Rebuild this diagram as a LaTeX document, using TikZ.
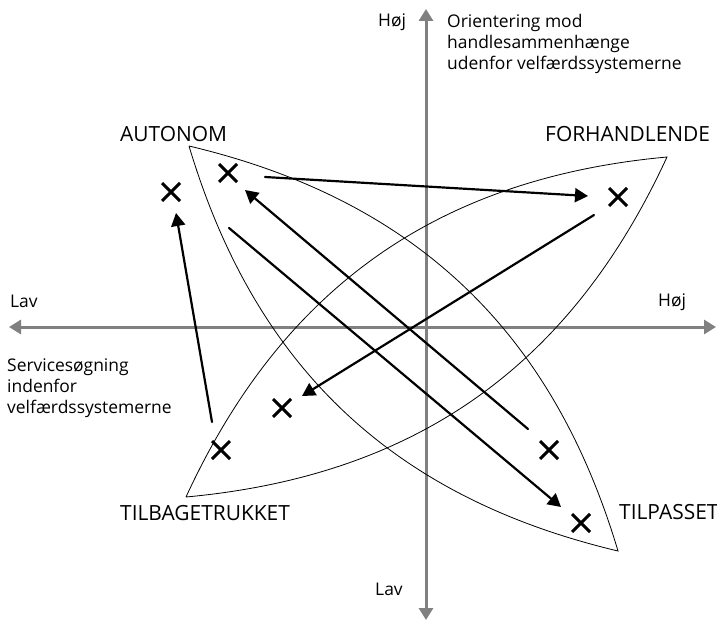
\documentclass[tikz,border=0pt]{standalone}
\usepackage{fontspec}
\setmainfont{Open Sans}
\usepackage{tkz-euclide}
\usetikzlibrary{calc}
\usetikzlibrary{positioning}
\usetikzlibrary{arrows.meta}
\usetikzlibrary{shapes.misc}
\definecolor{axisgray}{rgb}{0.5,0.5,0.5}

\begin{document}
\begin{tikzpicture}[%
  >={Triangle[length=13bp,width=14bp]},
  x=1bp, y=-1bp,
  axis/.style={line width=3bp, axisgray},
  lens/.style={line width=0.8bp},
  move/.style={line width=2.2bp},
  xmark/.style={draw, cross out, line width=3bp, minimum size=15bp, inner sep=0pt},
  small/.style={font=\fontsize{17.5}{21}\selectfont, inner sep=0pt},
  big/.style={font=\fontsize{21}{25}\selectfont, inner sep=0pt},
]
  \useasboundingbox (0,0) rectangle (717,621);

  % axes
  \tkzDefPoint(9,327){w}
  \tkzDefPoint(716,327){e}
  \tkzDefPoint(426,9){n}
  \tkzDefPoint(426,620){s}

  % tips of the two lenses
  \tkzDefPoint(189,146){la}
  \tkzDefPoint(618,551){lb}
  \tkzDefPoint(186,497){lc}
  \tkzDefPoint(667,157){ld}

  % crosses
  \tkzDefPoint(171,192){x1}
  \tkzDefPoint(228,173){x2}
  \tkzDefPoint(618,197){x3}
  \tkzDefPoint(282,408){x4}
  \tkzDefPoint(221,450){x5}
  \tkzDefPoint(549,450){x6}
  \tkzDefPoint(581,523){x7}

  % arrow ends
  \tkzDefPoint(265,177){a1}
  \tkzDefPoint(588,196){b1}
  \tkzDefPoint(594,215){a2}
  \tkzDefPoint(302,396){b2}
  \tkzDefPoint(229,228){a3}
  \tkzDefPoint(561,507){b3}
  \tkzDefPoint(528,429){a4}
  \tkzDefPoint(245,190){b4}
  \tkzDefPoint(212,422){a5}
  \tkzDefPoint(176,213){b5}

  \tkzDrawSegments[axis,<->,>={Triangle[length=12bp,width=14bp]}](w,e n,s)

  \draw[lens] (la) to[bend left=30] (lb) to[bend left=30] (la);
  \draw[lens] (lc) to[bend left=30] (ld) to[bend left=30] (lc);

  \tkzDrawSegments[move,->](a1,b1 a2,b2 a3,b3 a4,b4 a5,b5)

  \foreach \i in {1,...,7}
    \node[xmark] (mark\i) at (x\i) {};

  \node[small, anchor=base west] (hojn) at (378,27) {Høj};
  \node[small, anchor=north west, align=left] (orient) at (447,14)
    {Orientering mod\\handlesammenhænge\\udenfor velfærdssystemerne};
  \node[small, anchor=base west] (lavw) at (10,307) {Lav};
  \node[small, anchor=base west] (hoje) at (658,306) {Høj};
  \node[small, anchor=north west, align=left] (service) at (7,359)
    {Servicesøgning\\indenfor\\velfærdssystemerne};
  \node[small, anchor=base west] (lavs) at (375,595) {Lav};

  \node[big, anchor=base west] (autonom) at (120,142) {AUTONOM};
  \node[big, anchor=base west] (forhand) at (545,142) {FORHANDLENDE};
  \node[big, anchor=base west] (tilbage) at (120,520) {TILBAGETRUKKET};
  \node[big, anchor=base west] (tilpas) at (619,519) {TILPASSET};

\end{tikzpicture}
\end{document}
